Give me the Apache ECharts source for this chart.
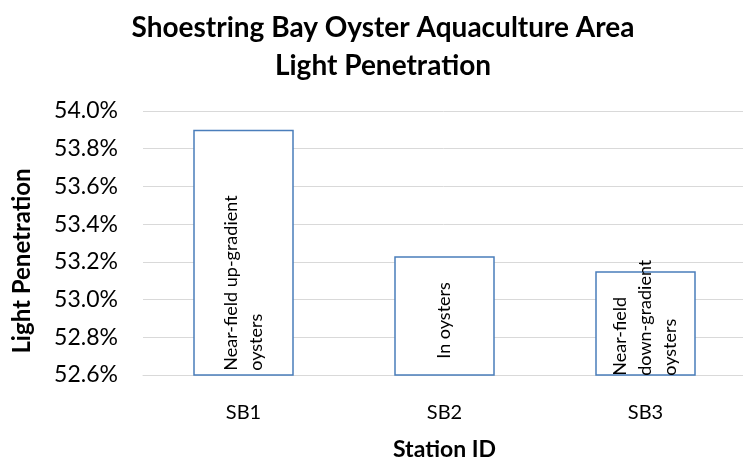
<!DOCTYPE html>
<html>
<head>
<meta charset="utf-8">
<script src="https://cdn.jsdelivr.net/npm/echarts@6/dist/echarts.min.js"></script>
<style>
  html, body { margin: 0; padding: 0; background: #fff; }
  #chart { width: 743px; height: 461px; }
</style>
</head>
<body>
<div id="chart"></div>
<script>
// Station IDs, light penetration (%) and the site description drawn on each bar
const stations = ['SB1', 'SB2', 'SB3'];
const lightPenetration = [53.9, 53.23, 53.15];
const siteNotes = ['Near-field up-gradient\noysters', 'In oysters', 'Near-field\ndown-gradient\noysters'];

const FONT = 'Lato, "Open Sans", sans-serif';

// gap between each bar's base and the start of its rotated note
const noteGap = [5, 17, 0];

const chart = echarts.init(document.getElementById('chart'));
chart.setOption({
  backgroundColor: '#ffffff',
  animation: false,
  title: {
    text: 'Shoestring Bay Oyster Aquaculture Area\nLight Penetration',
    left: 378,
    textAlign: 'center',
    top: 4,
    textStyle: {
      fontFamily: FONT,
      fontWeight: 'bold',
      fontSize: 28,
      lineHeight: 38,
      color: '#000'
    }
  },
  grid: { left: 143, top: 111, width: 603, height: 264, outerBoundsMode: 'none' },
  xAxis: {
    type: 'category',
    data: stations,
    name: 'Station ID',
    nameLocation: 'middle',
    nameGap: 63,
    nameTextStyle: { fontFamily: FONT, fontWeight: 'bold', fontSize: 23, color: '#000' },
    axisLine: { show: true, lineStyle: { color: '#d9d9d9', width: 1 } },
    axisTick: { show: false },
    axisLabel: { fontFamily: FONT, fontSize: 20, color: '#000', margin: 28 }
  },
  yAxis: {
    type: 'value',
    min: 52.6,
    max: 54.0,
    interval: 0.2,
    name: 'Light Penetration',
    nameLocation: 'middle',
    nameGap: 109,
    nameTextStyle: {
      fontFamily: FONT, fontWeight: 'bold', fontSize: 24, color: '#000',
      padding: [0, 36, 0, 0]
    },
    axisLine: { show: false },
    axisTick: { show: false },
    axisLabel: {
      fontFamily: FONT, fontSize: 23, color: '#000', margin: 25,
      formatter: v => v.toFixed(1) + '%'
    },
    splitLine: { lineStyle: { color: '#d9d9d9', width: 1 } }
  },
  series: [{
    type: 'bar',
    barWidth: '50%',
    data: lightPenetration.map((v, i) => ({
      value: v,
      label: { formatter: siteNotes[i], distance: noteGap[i] }
    })),
    itemStyle: { color: '#ffffff', borderColor: '#4a7ebb', borderWidth: 1.5 },
    label: {
      show: true,
      position: 'insideBottom',
      rotate: 90,
      align: 'left',
      verticalAlign: 'middle',
      fontFamily: FONT,
      fontSize: 18,
      lineHeight: 25,
      color: '#000'
    }
  }]
});
</script>
</body>
</html>
